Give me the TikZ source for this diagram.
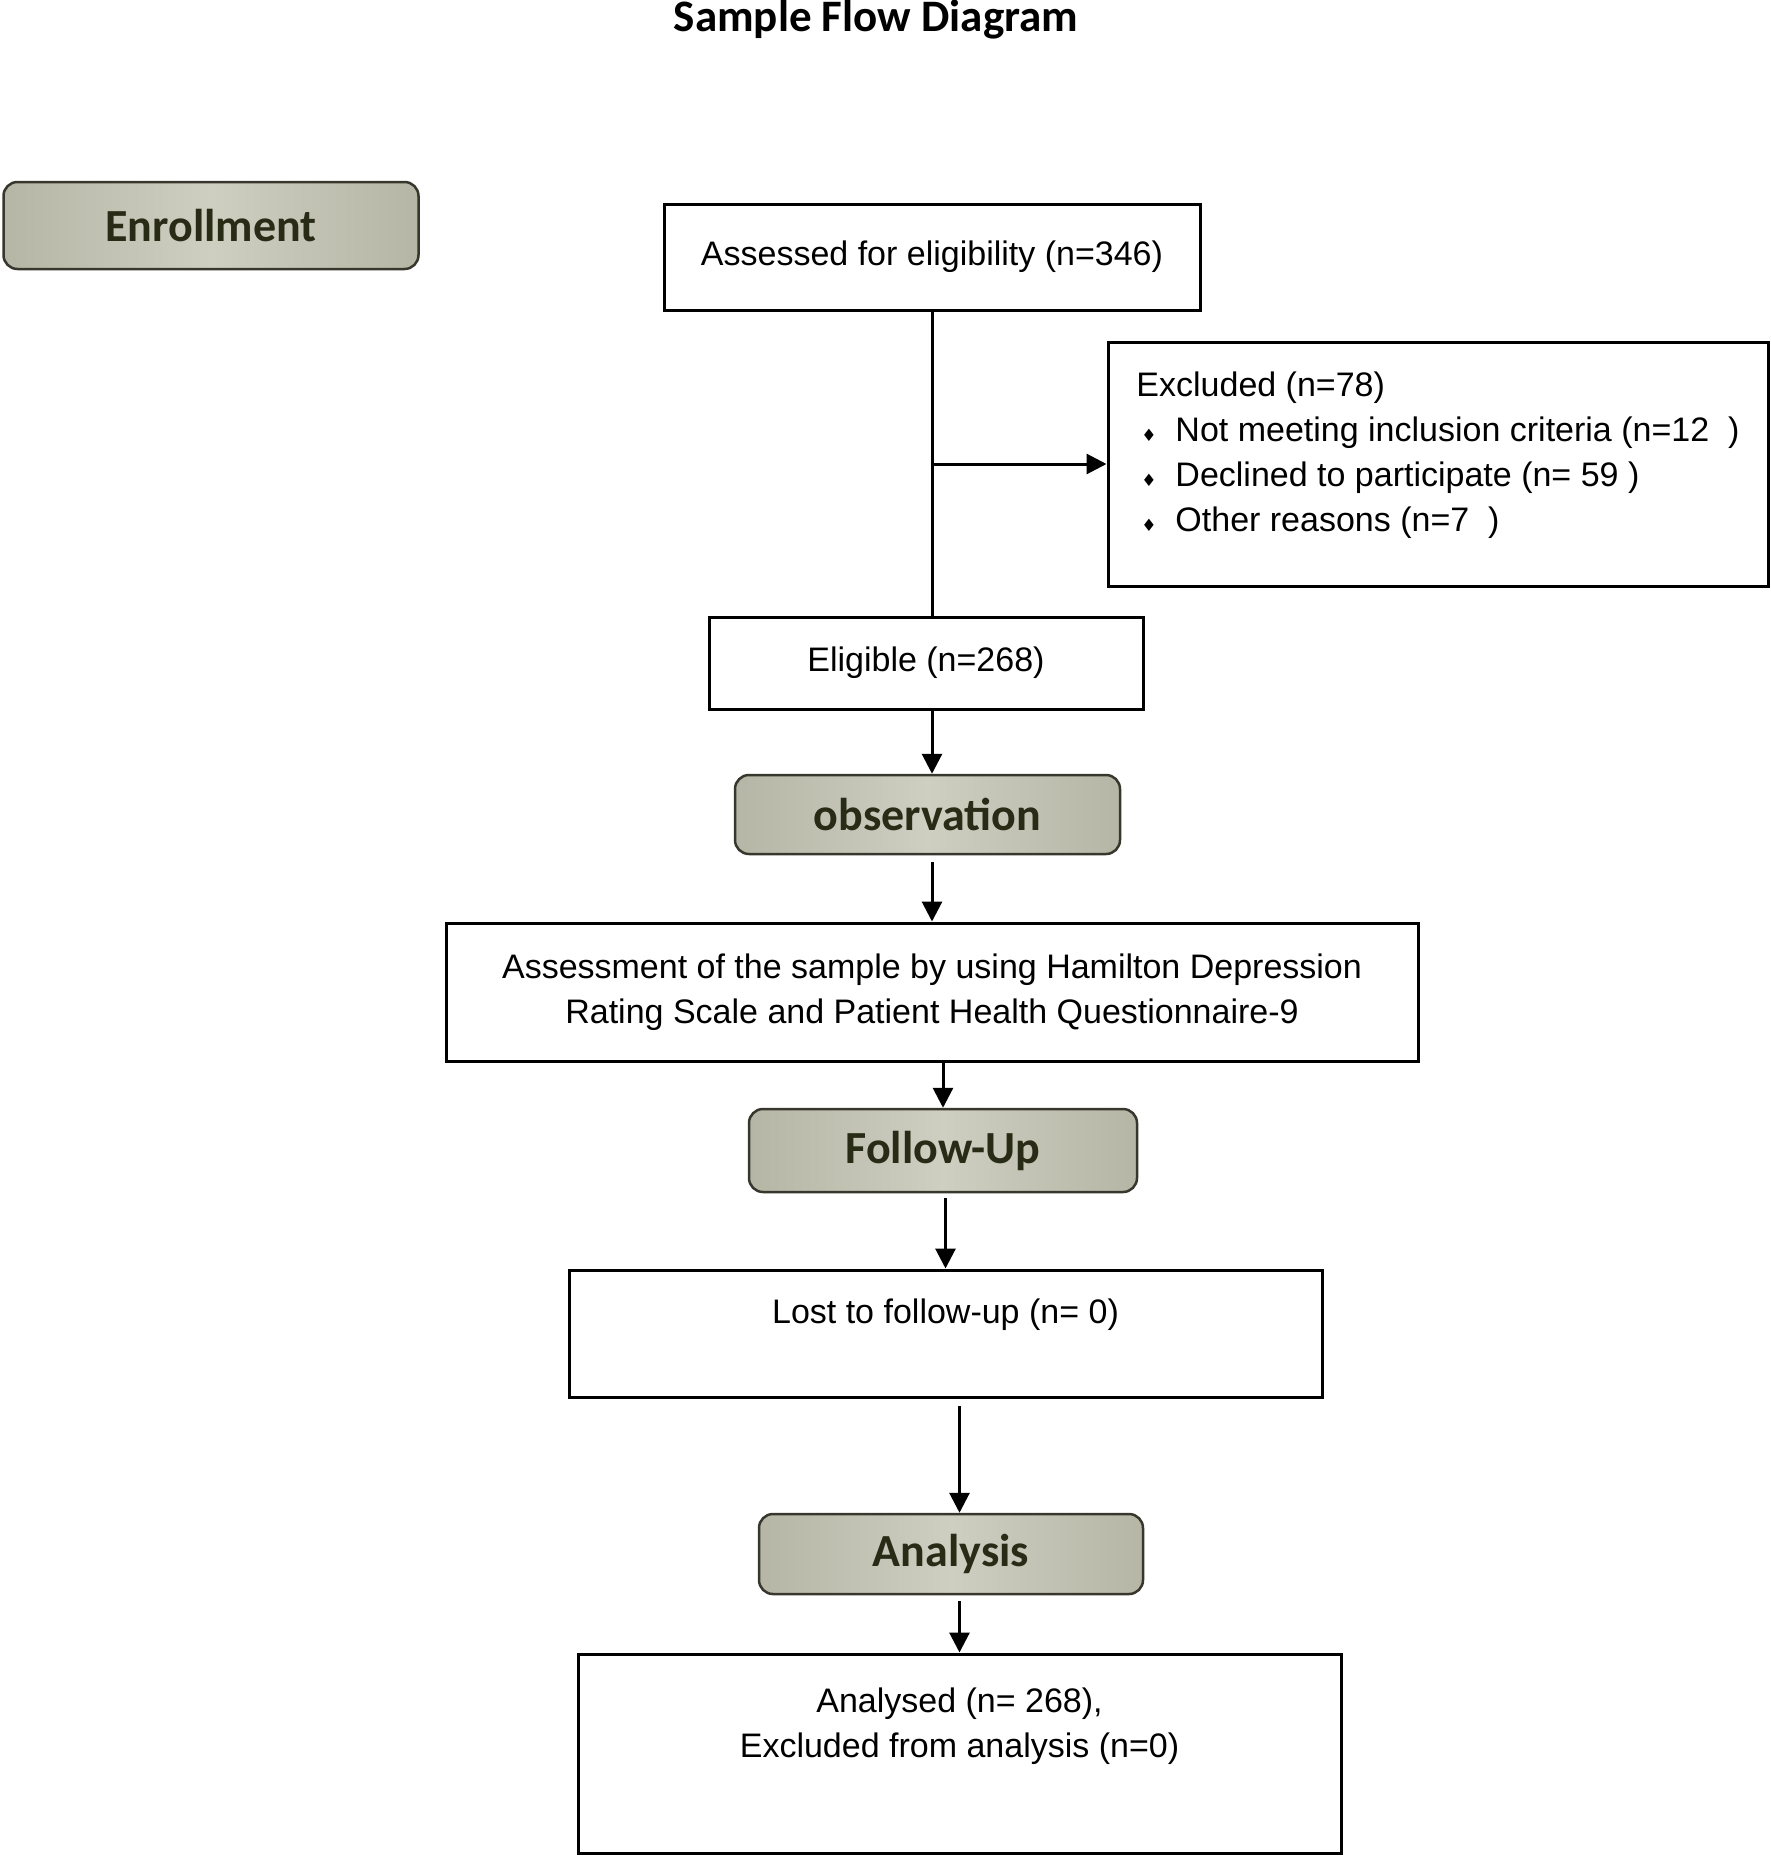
\documentclass[tikz,border=0pt]{standalone}
\usepackage{fontspec}
\setmainfont{Liberation Sans}
\newfontfamily\calfont{Carlito}
\newfontfamily\symfont{DejaVu Sans}
\usetikzlibrary{arrows.meta}
\definecolor{stagelight}{RGB}{206,206,193}
\definecolor{stagedark}{RGB}{182,182,166}
\definecolor{stageline}{RGB}{55,55,45}
\definecolor{stagetext}{RGB}{40,44,22}
\newcommand\exbullet{\makebox[39pt][l]{\hspace{5pt}{\symfont\fontsize{17}{17}\selectfont ♦}}}
\tikzset{
    flow/.cd,
    box/.style={draw,line width=3pt,font=\fontsize{34}{45}\selectfont,align=center,inner sep=0pt},
    stage/.style={draw=stageline,line width=2.5pt,rounded corners=14pt,left color=stagedark,right color=stagedark,middle color=stagelight,text=stagetext,font=\calfont\bfseries\fontsize{46}{50}\selectfont,inner sep=0pt},
    link/.style={line width=3pt},
    arrow/.style={flow/link,-{Triangle[length=20pt,width=20pt]}},
}

\begin{document}
\begin{tikzpicture}[x=1pt,y=-1pt]
      \useasboundingbox (0,0) rectangle (1770,1857);
      \node[anchor=base,font=\calfont\bfseries\fontsize{45}{50}\selectfont] (title) at (876,32) {Sample Flow Diagram};

      \node[flow/stage,minimum width=415,minimum height=87] (enrol) at (211,225.5) {Enrollment};
      \node[flow/box,minimum width=536,minimum height=106] (assess) at (932,257) {Assessed for eligibility (n=346)};
      \node[flow/box,minimum width=660,minimum height=244,align=left] (excl) at (1438,464) {Excluded (n=78)\\
        \exbullet Not meeting inclusion criteria (n=12~~)\\
        \exbullet Declined to participate (n= 59 )\\
        \exbullet Other reasons (n=7~~)\\[-20pt]\mbox{}};
      \node[flow/box,minimum width=434,minimum height=92] (elig) at (926,663) {Eligible (n=268)};
      \node[flow/stage,minimum width=385,minimum height=79] (obs) at (927.5,814.5) {observation};
      \node[flow/box,minimum width=972,minimum height=138] (hamd) at (932,992) {Assessment of the sample by using Hamilton Depression\\Rating Scale and Patient Health Questionnaire-9};
      \node[flow/stage,minimum width=388,minimum height=83] (follow) at (943,1150.5) {Follow-Up};
      \node[flow/box,minimum width=753,minimum height=127] (lost) at (945.5,1333.5) {Lost to follow-up (n= 0)\\ \mbox{}};
      \node[flow/stage,minimum width=384,minimum height=80] (anal) at (951,1554) {Analysis};
      \node[flow/box,minimum width=763,minimum height=199] (res) at (959.5,1753.5) {Analysed (n= 268),\\Excluded from analysis (n=0)\\[16pt] \mbox{}};

      \draw[flow/link] (assess.south) -- (assess.south |- elig.north);
      \draw[flow/arrow] (assess.south |- excl.west) -- (excl.west);
      \draw[flow/arrow] (elig.south -| assess.south) -- (obs.north -| assess.south);
      \draw[flow/arrow,shorten <=7pt] (obs.south -| hamd.north) -- (hamd.north);
      \draw[flow/arrow] (hamd.south -| follow.north) -- (follow.north);
      \draw[flow/arrow,shorten <=5pt] (follow.south -| lost.north) -- (lost.north);
      \draw[flow/arrow,shorten <=7pt] (lost.south -| res.north) -- (anal.north -| res.north);
      \draw[flow/arrow,shorten <=6pt] (anal.south -| res.north) -- (res.north);
    \end{tikzpicture}
\end{document}
